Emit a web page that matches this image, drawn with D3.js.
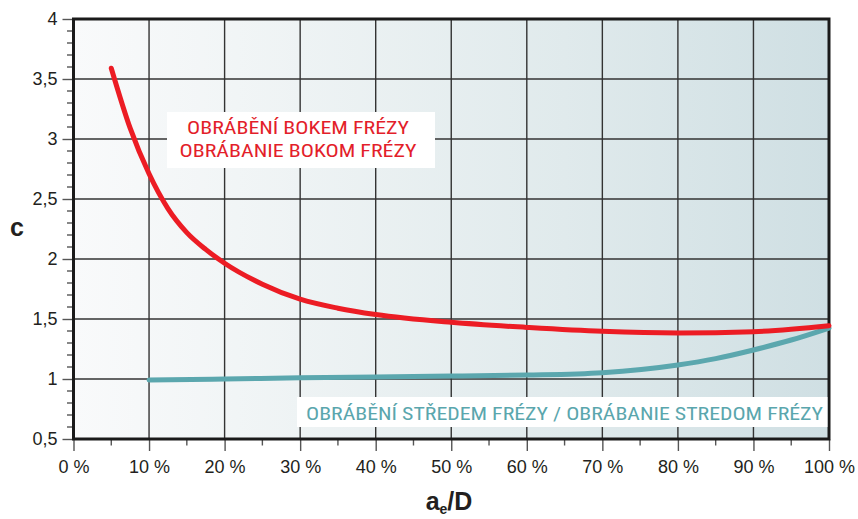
<!DOCTYPE html>
<html>
<head>
<meta charset="utf-8">
<script src="https://cdn.jsdelivr.net/npm/d3@7"></script>
<style>
  html, body { margin: 0; padding: 0; background: #ffffff; }
  svg { display: block; }
</style>
</head>
<body>
<svg id="chart" width="858" height="519"></svg>
<script>
// Coefficient c against radial engagement a_e/D (percent of cutter diameter)
const xTickValues = [0, 10, 20, 30, 40, 50, 60, 70, 80, 90, 100];
const xMinorTicks = [5, 15, 25, 35, 45, 55, 65, 75, 85, 95];
const yTickValues = [0.5, 1, 1.5, 2, 2.5, 3, 3.5, 4];

// Side milling (OBRÁBĚNÍ BOKEM FRÉZY)
const flankX = [5, 7.5, 10, 12.5, 15, 17.5, 20, 25, 30, 35, 40, 50, 60, 70, 80, 90, 100];
const flankC = [3.59, 3.09, 2.71, 2.42, 2.22, 2.08, 1.965, 1.79, 1.665, 1.59, 1.537, 1.472, 1.43, 1.397, 1.383, 1.394, 1.444];

// Centre milling (OBRÁBĚNÍ STŘEDEM FRÉZY)
const centreX = [10, 20, 30, 40, 50, 60, 70, 80, 85, 90, 95, 100];
const centreC = [0.992, 1.0, 1.01, 1.017, 1.024, 1.033, 1.053, 1.117, 1.17, 1.242, 1.325, 1.425];

const flankLabel = ["OBRÁBĚNÍ BOKEM FRÉZY", "OBRÁBANIE BOKOM FRÉZY"];
const centreLabel = "OBRÁBĚNÍ STŘEDEM FRÉZY / OBRÁBANIE STREDOM FRÉZY";

const svg = d3.select("#chart");
const plotL = 73.5, plotR = 829, plotT = 19, plotB = 439;

const x = d3.scaleLinear().domain([0, 100]).range([plotL, plotR]);
const y = d3.scaleLinear().domain([0.5, 4]).range([plotB, plotT]);

const fmtY = v => String(v).replace(".", ",");
const condensed = "'Liberation Sans Narrow', 'Arial Narrow', 'Roboto Condensed', 'Liberation Sans', Arial, sans-serif";
const regular = "'Liberation Sans', Arial, Helvetica, sans-serif";

// background gradient
const defs = svg.append("defs");
const grad = defs.append("linearGradient").attr("id", "bg").attr("x1", "0").attr("x2", "1").attr("y1", "0").attr("y2", "0");
grad.append("stop").attr("offset", "0%").attr("stop-color", "#f9fafb");
grad.append("stop").attr("offset", "30%").attr("stop-color", "#eef3f4");
grad.append("stop").attr("offset", "65%").attr("stop-color", "#e0eaec");
grad.append("stop").attr("offset", "100%").attr("stop-color", "#cfdfe3");

svg.append("rect")
  .attr("x", plotL).attr("y", plotT)
  .attr("width", plotR - plotL).attr("height", plotB - plotT)
  .attr("fill", "url(#bg)");

// grid
svg.append("g").selectAll("line").data(xTickValues.slice(1, -1)).join("line")
  .attr("x1", d => x(d)).attr("x2", d => x(d))
  .attr("y1", plotT).attr("y2", plotB)
  .attr("stroke", "#333").attr("stroke-width", 1.4);

svg.append("g").selectAll("line").data(yTickValues.slice(1, -1)).join("line")
  .attr("x1", plotL).attr("x2", plotR)
  .attr("y1", d => y(d)).attr("y2", d => y(d))
  .attr("stroke", "#333").attr("stroke-width", 1.4);

// y axis: major and minor ticks
const yAxis = svg.append("g").attr("transform", `translate(${plotL},0)`)
  .call(d3.axisLeft(y).tickValues(yTickValues).tickFormat(fmtY).tickSize(11).tickPadding(5));
yAxis.select(".domain").remove();
yAxis.selectAll(".tick line").attr("stroke", "#555").attr("stroke-width", 1.4);
yAxis.selectAll(".tick text")
  .attr("font-family", regular).attr("font-size", 18).attr("fill", "#231f20");

const yMinor = d3.range(0.6, 4.0, 0.1).filter(v => Math.abs(v * 2 - Math.round(v * 2)) > 0.01);
svg.append("g").selectAll("line").data(yMinor).join("line")
  .attr("x1", plotL - 6.5).attr("x2", plotL)
  .attr("y1", d => y(d)).attr("y2", d => y(d))
  .attr("stroke", "#555").attr("stroke-width", 1.4);

// x axis
const xAxis = svg.append("g").attr("transform", `translate(0,${plotB})`)
  .call(d3.axisBottom(x).tickValues(xTickValues).tickFormat(d => d + " %").tickSize(12).tickPadding(9));
xAxis.select(".domain").remove();
xAxis.selectAll(".tick line").attr("stroke", "#555").attr("stroke-width", 1.4);
xAxis.selectAll(".tick text")
  .attr("font-family", regular).attr("font-size", 18).attr("fill", "#231f20");

svg.append("g").selectAll("line").data(xMinorTicks).join("line")
  .attr("x1", d => x(d)).attr("x2", d => x(d))
  .attr("y1", plotB).attr("y2", plotB + 6.5)
  .attr("stroke", "#555").attr("stroke-width", 1.4);

// frame
svg.append("rect")
  .attr("x", plotL).attr("y", plotT)
  .attr("width", plotR - plotL).attr("height", plotB - plotT)
  .attr("fill", "none").attr("stroke", "#1a1a1a").attr("stroke-width", 3);

// label boxes
svg.append("rect").attr("x", 167).attr("y", 112).attr("width", 268).attr("height", 56).attr("fill", "#ffffff");
const fl = svg.append("text").attr("font-family", condensed).attr("font-size", 18.5).attr("fill", "#e31e2a").attr("text-anchor", "middle");
fl.append("tspan").attr("x", 298).attr("y", 134).attr("textLength", 222).attr("lengthAdjust", "spacingAndGlyphs").text(flankLabel[0]);
fl.append("tspan").attr("x", 298).attr("y", 156.5).attr("textLength", 237).attr("lengthAdjust", "spacingAndGlyphs").text(flankLabel[1]);

svg.append("rect").attr("x", 297).attr("y", 397).attr("width", plotR - 1.5 - 297).attr("height", 30).attr("fill", "#ffffff");
svg.append("text").attr("font-family", condensed).attr("font-size", 18.5).attr("fill", "#5aa6ad")
  .attr("x", 306).attr("y", 420).attr("textLength", 517).attr("lengthAdjust", "spacingAndGlyphs")
  .text(centreLabel);

// curves
const line = d3.line().x(d => x(d[0])).y(d => y(d[1])).curve(d3.curveMonotoneX);

svg.append("path")
  .datum(centreX.map((v, i) => [v, centreC[i]]))
  .attr("d", line).attr("fill", "none")
  .attr("stroke", "#5ba7ae").attr("stroke-width", 5).attr("stroke-linecap", "round");

svg.append("path")
  .datum(flankX.map((v, i) => [v, flankC[i]]))
  .attr("d", line).attr("fill", "none")
  .attr("stroke", "#ec1c24").attr("stroke-width", 5).attr("stroke-linecap", "round");

// axis titles
svg.append("text").attr("x", 10).attr("y", 236)
  .attr("font-family", regular).attr("font-weight", "bold").attr("font-size", 25).attr("fill", "#231f20")
  .text("c");

const xt = svg.append("text").attr("x", 449).attr("y", 510).attr("text-anchor", "middle")
  .attr("font-family", regular).attr("font-weight", "bold").attr("font-size", 25).attr("fill", "#231f20");
xt.append("tspan").text("a");
xt.append("tspan").attr("font-size", 14).attr("dy", 4).text("e");
xt.append("tspan").attr("dy", -4).text("/D");
</script>
</body>
</html>
